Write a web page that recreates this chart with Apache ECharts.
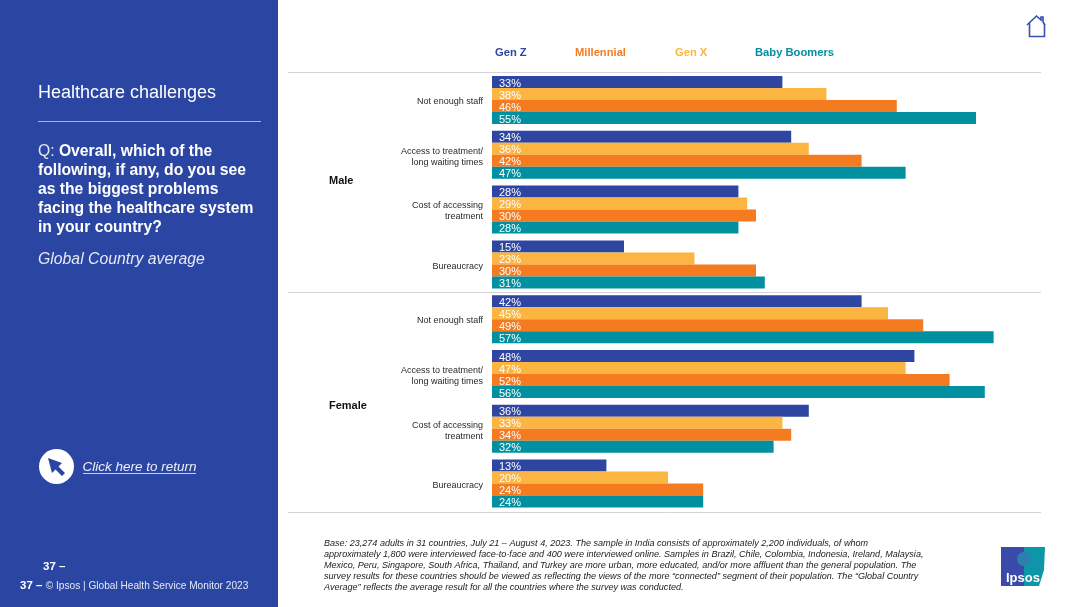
<!DOCTYPE html>
<html><head><meta charset="utf-8">
<style>html,body{margin:0;padding:0;background:#fff}#c{width:1080px;height:607px}</style>
<script src="https://cdn.jsdelivr.net/npm/echarts@6/dist/echarts.min.js"></script>
</head><body><div id="c"></div>
<script>
const categories = ["Not enough staff","Access to treatment/\nlong waiting times","Cost of accessing\ntreatment","Bureaucracy","Not enough staff ","Access to treatment/\nlong waiting times ","Cost of accessing\ntreatment ","Bureaucracy "];
const genZ = [33,34,28,15,42,48,36,13];
const genX = [38,36,29,23,45,47,33,20];
const millennial = [46,42,30,30,49,52,34,24];
const boomers = [55,47,28,31,57,56,32,24];
const seriesNames = ["Gen Z","Gen X","Millennial","Baby Boomers"];
const seriesValues = [genZ,genX,millennial,boomers];
const seriesColors = ["#2e46a2","#fbb540","#f57b20","#0090a0"];
const legendOrder = [["Gen Z",490,"#2e46a2"],["Millennial",570,"#f57b20"],["Gen X",670,"#fbb540"],["Baby Boomers",750,"#0090a0"]];
const FONT = '"Liberation Sans", Arial, sans-serif';
const baseLines = [
"Base: 23,274 adults in 31 countries, July 21 – August 4, 2023. The sample in India consists of approximately 2,200 individuals, of whom",
"approximately 1,800 were interviewed face-to-face and 400 were interviewed online. Samples in Brazil, Chile, Colombia, Indonesia, Ireland, Malaysia,",
"Mexico, Peru, Singapore, South Africa, Thailand, and Turkey are more urban, more educated, and/or more affluent than the general population. The",
"survey results for these countries should be viewed as reflecting the views of the more “connected” segment of their population. The “Global Country",
"Average” reflects the average result for all the countries where the survey was conducted."];
const W = '#ffffff';
function txt(x,y,text,size,extra){return {type:'text',x,y,z:10,style:Object.assign({text,fill:W,font:`${size}px ${FONT}`,textVerticalAlign:'middle'},extra||{})};}
const hline = y=>({type:'line',z:1,shape:{x1:288,y1:y,x2:1041,y2:y},style:{stroke:'#d4d4d8',lineWidth:1}});
const graphic = [
 {type:'rect',z:0,shape:{x:0,y:0,width:278,height:607},style:{fill:'#2b46a2'}},
 hline(72.5),hline(292.5),hline(512.5),
 txt(38,93.5,"Healthcare challenges",18),
 {type:'line',z:5,shape:{x1:38,y1:121.5,x2:261,y2:121.5},style:{stroke:'#aab5dc',lineWidth:1}},
 {type:'text',x:38,y:142,z:10,style:{rich:{n:{font:`15.7px ${FONT}`,fill:'#e6e9f6',lineHeight:19},b:{font:`bold 15.7px ${FONT}`,fill:W,lineHeight:19}},
   text:"{n|Q: }{b|Overall, which of the}\n{b|following, if any, do you see}\n{b|as the biggest problems}\n{b|facing the healthcare system}\n{b|in your country?}"}},
 txt(38,259.5,"Global Country average",15.8,{font:`italic 15.8px ${FONT}`,fill:'#e6e9f6'}),
 {type:'circle',z:5,shape:{cx:56.5,cy:466.5,r:17.5},style:{fill:W}},
 {type:'polygon',z:6,shape:{points:[[48,458],[62,463],[58.5,466.5],[65,473],[62,476],[55.5,469.5],[52,473]]},style:{fill:'#2b46a2'}},
 txt(82.5,467.5,"Click here to return",13.5,{font:`italic 13.5px ${FONT}`,fill:'#eef0fa'}),
 {type:'line',z:6,shape:{x1:83,y1:473.5,x2:196,y2:473.5},style:{stroke:'#c5cdea',lineWidth:1}},
 txt(43,566.5,"37 –",11.5,{font:`bold 11.5px ${FONT}`}),
 {type:'text',x:20,y:586,z:10,style:{textVerticalAlign:'middle',rich:{b:{font:`bold 11.5px ${FONT}`,fill:W},n:{font:`10.15px ${FONT}`,fill:'#e4e8f6'}},text:"{b|37 –} {n|© Ipsos | Global Health Service Monitor 2023}"}},
 txt(329,181,"Male",11,{font:`bold 11px ${FONT}`,fill:'#111'}),
 txt(329,406,"Female",11,{font:`bold 11px ${FONT}`,fill:'#111'}),
 {type:'text',x:324,y:538,z:10,style:{text:baseLines.join("\n"),font:`italic 9.07px ${FONT}`,fill:'#222',lineHeight:10.9}},
 {type:'polyline',z:5,shape:{points:[[1027,25],[1036.5,16],[1041,20],[1041,17],[1043,17],[1043,22],[1045,25]]},style:{stroke:'#3552ad',fill:'none',lineWidth:1.6}},
 {type:'polyline',z:5,shape:{points:[[1029.5,23],[1029.5,36.5],[1044.5,36.5],[1044.5,24]]},style:{stroke:'#3552ad',fill:'none',lineWidth:1.6}},
 {type:'polygon',z:5,shape:{points:[[1001,547],[1045,547],[1044,570],[1039,586],[1001,586]]},style:{fill:'#0d96a8'}},
 {type:'polygon',z:5,shape:{points:[[1001,547],[1024,547],[1024,586],[1001,586]]},style:{fill:'#3a4aa8'}},
 {type:'circle',z:6,shape:{cx:1024,cy:559,r:7},style:{fill:'#2f7fae'}},
 txt(1006,578,"Ipsos",13,{font:`bold 13px ${FONT}`})
];
const option = {
 animation:false,
 backgroundColor:'#fff',
 textStyle:{fontFamily:FONT},
 grid:{left:492,top:72.6,width:528,height:438.4,containLabel:false},
 xAxis:{type:'value',min:0,max:60,show:false},
 yAxis:{type:'category',inverse:true,data:categories,axisLine:{show:false},axisTick:{show:false},
   axisLabel:{margin:9,align:'right',
     rich:{g:{fontSize:1,lineHeight:3.5},t:{fontSize:9,lineHeight:11,color:'#2a2a2a',fontFamily:FONT,align:'right'}},
     formatter:v=>"{g| }\n"+v.trim().split("\n").map(s=>"{t|"+s+"}").join("\n")}},
 legend:legendOrder.map(([name,x,color])=>({data:[name],left:x,top:47,icon:'rect',itemWidth:0,itemHeight:0,itemGap:0,padding:0,selectedMode:false,
   textStyle:{color,fontSize:11.2,fontWeight:'bold',fontFamily:FONT,padding:0}})),
 series:seriesNames.map((name,i)=>({name,type:'bar',data:seriesValues[i],barWidth:12,barGap:'0%',barCategoryGap:'10%',
   itemStyle:{color:seriesColors[i]},
   label:{show:true,position:'insideLeft',distance:7,offset:[0,1.5],formatter:'{c}%',color:'#fff',fontSize:11,fontFamily:FONT}})),
 graphic
};
const chart = echarts.init(document.getElementById('c'),null,{renderer:'canvas'});
chart.setOption(option);
</script></body></html>
